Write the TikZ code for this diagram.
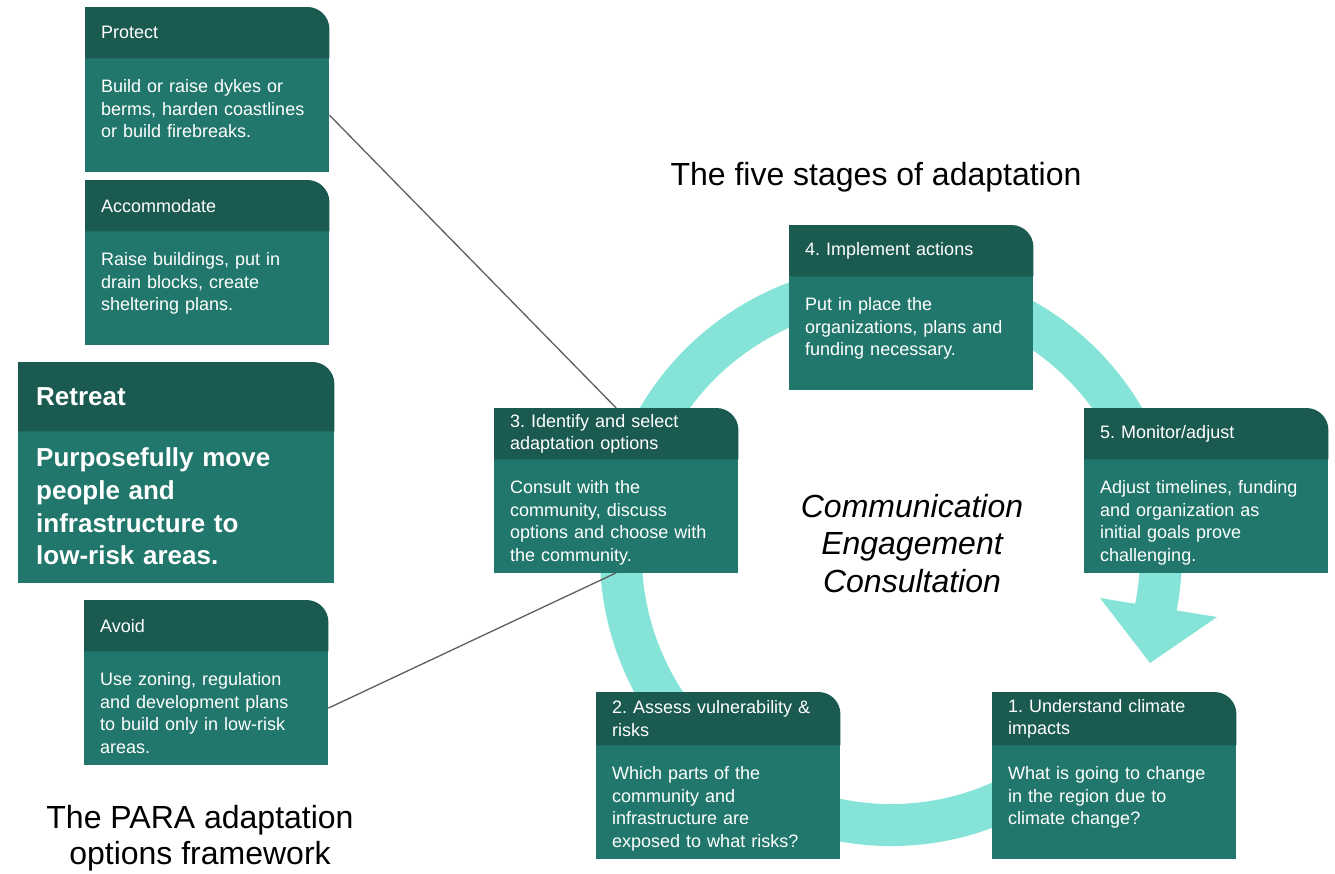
\documentclass[tikz,border=0pt]{standalone}
\usepackage{fontspec}
\setmainfont{Liberation Sans}
\usetikzlibrary{positioning,backgrounds,calc}

\definecolor{headgreen}{HTML}{1B5A50}
\definecolor{bodygreen}{HTML}{21776B}
\definecolor{ringteal}{HTML}{86E3D8}
\definecolor{linkgray}{HTML}{5E5E5E}

\begin{document}
\frenchspacing
\begin{tikzpicture}[x=1pt,y=-1pt]
    \tikzstyle{head}=[anchor=north west, text=white, text width=212pt, inner xsep=16pt, inner ysep=0pt,
                      minimum height=51pt, align=left, font=\fontsize{18}{22.5}\selectfont]
    \tikzstyle{body}=[text=white, text width=212pt, inner xsep=16pt, inner ysep=21pt, text height=13pt,
                      text depth=58pt, align=left, font=\fontsize{18}{22.5}\selectfont]
    \tikzstyle{title}=[font=\fontsize{32}{36}\selectfont, align=center, inner sep=0pt]
    \tikzstyle{link}=[draw=linkgray, line width=1.3pt]
    \useasboundingbox (0,0) rectangle (1335,873);

    % the ring, under every card
    \begin{scope}[on background layer]
        \draw[ringteal, line width=42pt] (891,555) ++(60:270) arc[start angle=60, end angle=373, radius=270];
        \fill[ringteal] (1100,598) -- (1217,617) -- (1150,663) -- cycle;
    \end{scope}

    % PARA options
    \node[head] (protecthead) at (85,7) {Protect};
    \node[body, below=0pt of protecthead] (protectbody) {Build or raise dykes or\\berms, harden coastlines\\or build firebreaks.};

    \node[head] (accomhead) at (85,180) {Accommodate};
    \node[body, below=0pt of accomhead] (accombody) {Raise buildings, put in\\drain blocks, create\\sheltering plans.};

    \node[head, text width=280pt, inner xsep=18pt, minimum height=69pt, font=\bfseries\fontsize{26}{32.7}\selectfont]
        (retreathead) at (18,362) {Retreat};
    \node[body, below=0pt of retreathead, text width=280pt, inner xsep=18pt, inner ysep=16pt, text height=19pt,
          text depth=100pt, font=\bfseries\fontsize{26}{32.7}\selectfont]
        (retreatbody) {Purposefully move\\people and\\infrastructure to\\low-risk areas.};

    \node[head] (avoidhead) at (84,600) {Avoid};
    \node[body, below=0pt of avoidhead] (avoidbody) {Use zoning, regulation\\and development plans\\to build only in low-risk\\areas.};

    % five stages
    \node[head] (implementhead) at (789,225) {4. Implement actions};
    \node[body, below=0pt of implementhead] (implementbody) {Put in place the\\organizations, plans and\\funding necessary.};

    \node[head] (identifyhead) at (494,408) {3. Identify and select\\adaptation options};
    \node[body, below=0pt of identifyhead] (identifybody) {Consult with the\\community, discuss\\options and choose with\\the community.};

    \node[head] (monitorhead) at (1084,408) {5. Monitor/adjust};
    \node[body, below=0pt of monitorhead] (monitorbody) {Adjust timelines, funding\\and organization as\\initial goals prove\\challenging.};

    \node[head, minimum height=53pt] (assesshead) at (596,692) {2. Assess vulnerability \&\\risks};
    \node[body, below=0pt of assesshead] (assessbody) {Which parts of the\\community and\\infrastructure are\\exposed to what risks?};

    \node[head, minimum height=53pt] (understandhead) at (992,692) {1. Understand climate\\impacts};
    \node[body, below=0pt of understandhead] (understandbody) {What is going to change\\in the region due to\\climate change?};

    % card fills
    \begin{scope}[on background layer]
        \foreach \c in {protect,accom,retreat,avoid,implement,identify,monitor,assess,understand} {
            \fill[bodygreen] (\c body.north west) rectangle (\c body.south east);
            \fill[headgreen] (\c head.south west) -- (\c head.north west) -- ([xshift=-22pt]\c head.north east)
                arc[start angle=90, end angle=0, radius=22pt] -- (\c head.south east) -- cycle;
        }
    \end{scope}

    % titles (base = last line)
    \node[title, anchor=base] (stagestitle) at (876,185) {The five stages of adaptation};
    \node[title, anchor=base] (paratitle) at (200,864) {The PARA adaptation\\options framework};
    \node[title, anchor=base, font=\itshape\fontsize{32}{37.5}\selectfont] (commtext) at (912,592)
        {Communication\\Engagement\\Consultation};

    \draw[link] (protectbody.east) -- (identifyhead.north);
    \draw[link] (avoidbody.east) -- (identifybody.south);
\end{tikzpicture}
\end{document}
